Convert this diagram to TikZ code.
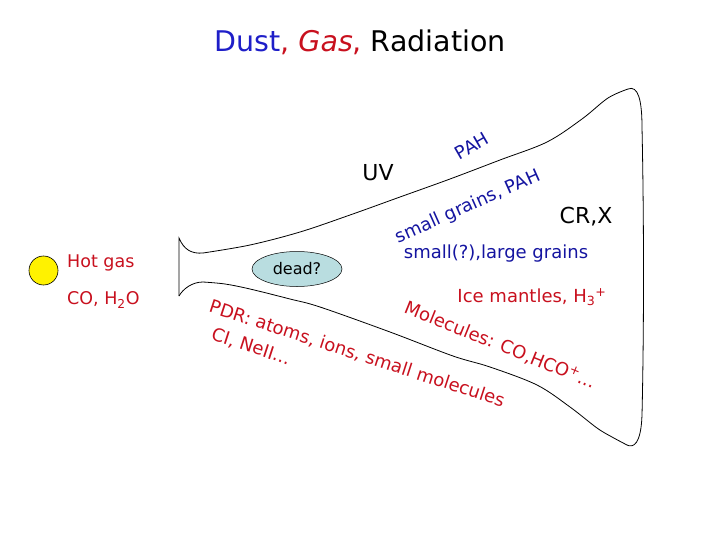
\documentclass[tikz,border=0pt]{standalone}
\usepackage{fontspec}
\setmainfont{DejaVu Sans}
\usetikzlibrary{shapes.geometric}
\definecolor{titleblue}{RGB}{30,30,200}
\definecolor{dkblue}{RGB}{20,20,160}
\definecolor{myred}{RGB}{200,16,30}
\definecolor{deadfill}{RGB}{185,221,224}
\tikzset{
  lbl/.style={inner sep=0pt, font=\fontsize{18}{20}\selectfont},
  bluelbl/.style={lbl, text=dkblue},
  redlbl/.style={lbl, text=myred},
  blklbl/.style={inner sep=0pt, font=\fontsize{22}{24}\selectfont, text=black},
  funnel/.style={line width=0.8pt, black}
}
\begin{document}
\begin{tikzpicture}[x=1pt,y=-1pt]
\useasboundingbox (0,0) rectangle (720,540);
% title
\node[inner sep=0pt, font=\fontsize{28.5}{30}\selectfont] (title) at (360,42)
  {\textcolor{titleblue}{Dust}\textcolor{myred}{, \textit{Gas},} Radiation};
% star
\node[circle, draw=black, fill=yellow, line width=0.6pt, minimum size=29pt, inner sep=0pt] (star) at (43.5,270.5) {};
\node[redlbl, font=\fontsize{17.5}{19}\selectfont, anchor=west] (hot) at (67,263) {Hot gas};
\node[redlbl, font=\fontsize{17.5}{19}\selectfont, anchor=west] (co) at (67,300) {CO, H\textsubscript{2}O};
% funnel outline
\draw[funnel] (179,296) -- (179,238) .. controls (184,250) and (192,254) .. (203,253);
\draw[funnel] plot[smooth, tension=0.55] coordinates {(203,253) (250,245) (300,232) (350,215) (400,197) (450,179) (500,160) (547,142) (582,119) (608,98) (628,89)};
\draw[funnel] (628,89) .. controls (638,85) and (642,100) .. (642,127)
  .. controls (644,220) and (644,330) .. (642,415)
  .. controls (641,445) and (633,448) .. (627,445);
\draw[funnel] plot[smooth, tension=0.55] coordinates {(627,445) (612,437) (597,428) (570,407) (537,385) (490,367) (453,356) (390,332) (320,307) (290,299) (250,289) (225,284) (203,282)};
\draw[funnel] (203,282) .. controls (192,282) and (183,289) .. (179,296);
% dead ellipse
\node[ellipse, draw=black, fill=deadfill, line width=0.5pt, minimum width=90pt, minimum height=35pt, inner sep=0pt, font=\fontsize{16}{18}\selectfont] (dead) at (297,269) {dead?};
% labels
\node[blklbl] (uv) at (378,173) {UV};
\node[blklbl] (crx) at (586,217) {CR,X};
\node[bluelbl, rotate=30] (pah) at (472,146) {PAH};
\node[bluelbl, rotate=24] (smallgr) at (468,207) {small grains, PAH};
\node[bluelbl] (large) at (496,254) {small(?),large grains};
\node[redlbl] (ice) at (532,297) {Ice mantles, H\textsubscript{3}\textsuperscript{+}};
\node[redlbl, rotate=-22] (mol) at (500,345) {Molecules: CO,HCO\textsuperscript{+}...};
\node[redlbl, rotate=-18] (pdr) at (357,354) {PDR: atoms, ions, small molecules};
\node[redlbl, rotate=-18] (ci) at (251,347) {CI, NeII...};
\end{tikzpicture}
\end{document}
